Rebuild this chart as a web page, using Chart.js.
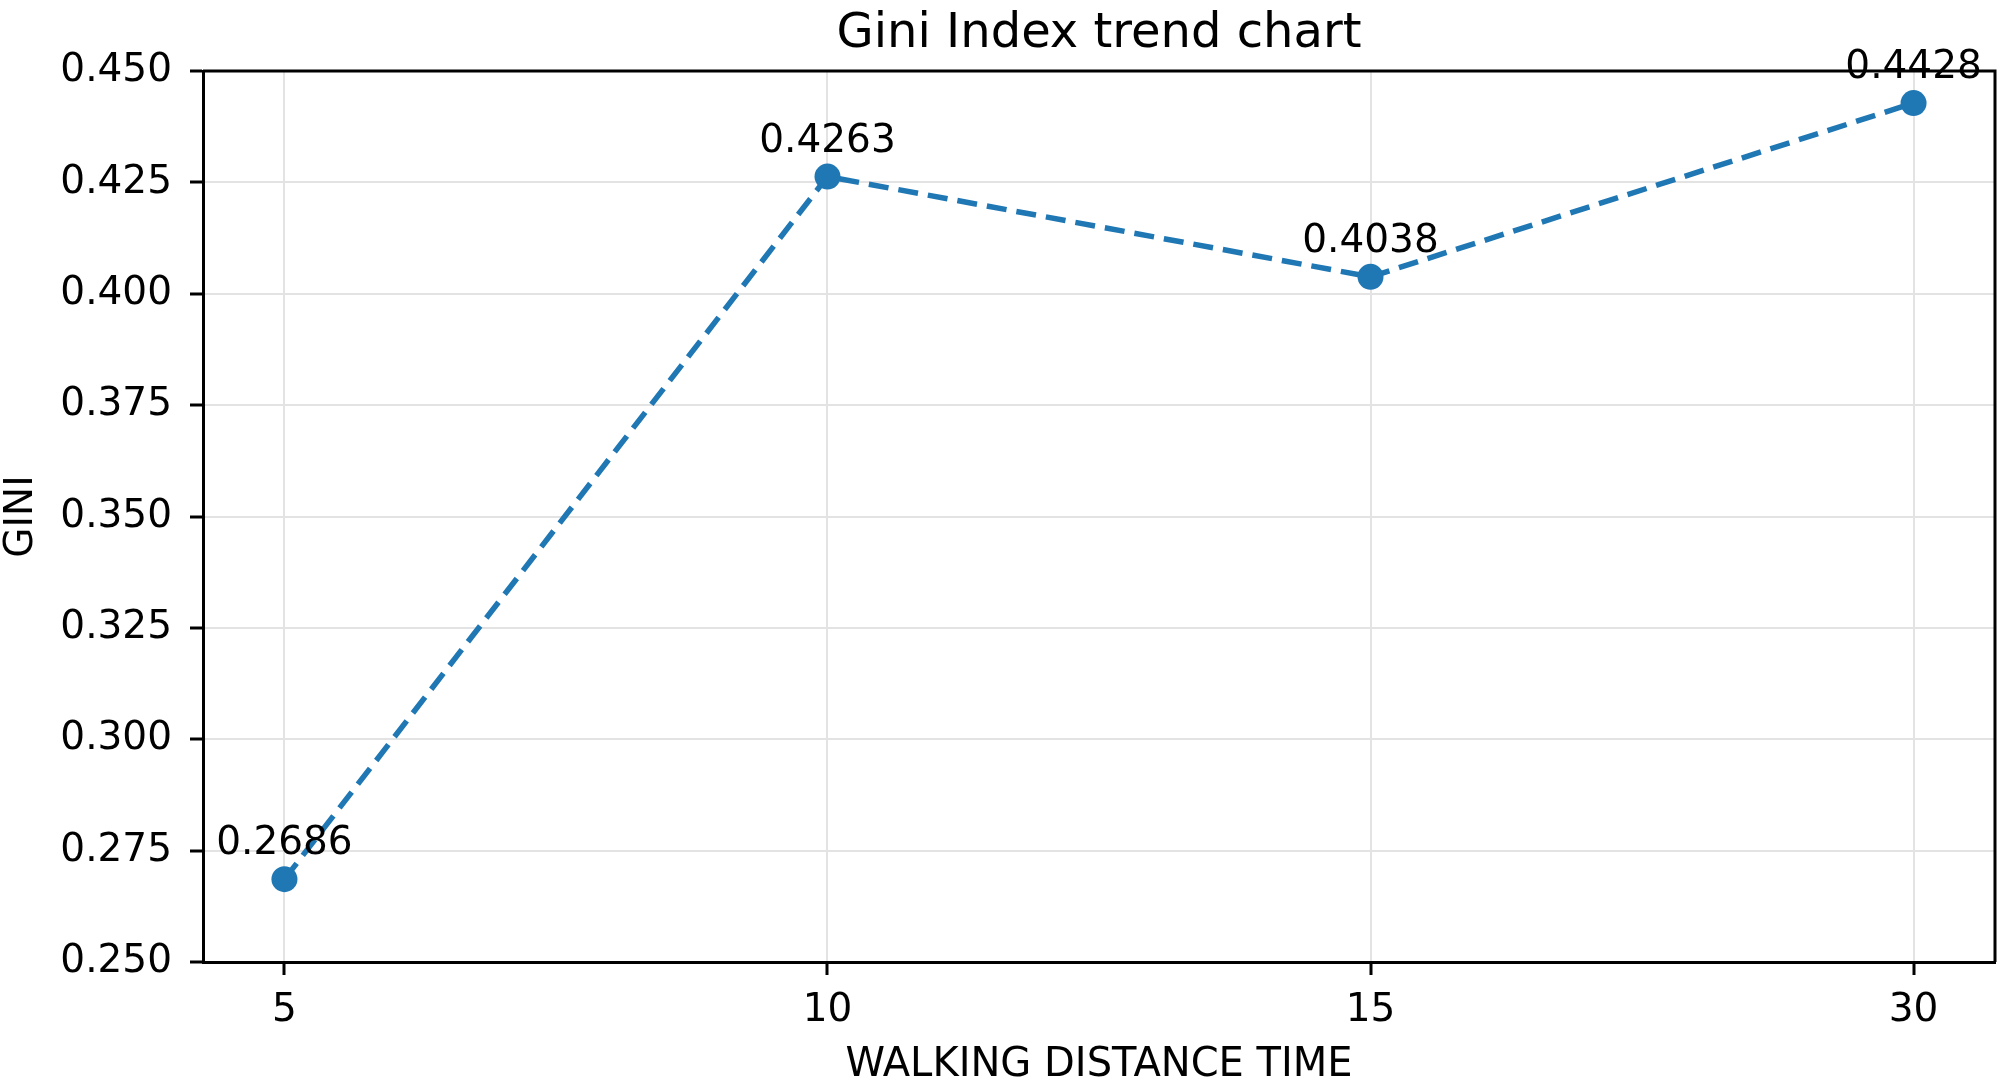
<!DOCTYPE html>
<html>
<head>
<meta charset="utf-8">
<script src="https://cdn.jsdelivr.net/npm/chart.js@4"></script>
<style>
  html, body { margin: 0; padding: 0; background: #fff; }
  #wrap { width: 2008px; height: 1085px; }
</style>
</head>
<body>
<div id="wrap"><canvas id="c" width="2008" height="1085"></canvas></div>
<script>
// ---- data ----
const categories = ['5', '10', '15', '30'];
const giniValues = [0.2686, 0.4263, 0.4038, 0.4428];
const yTickValues = [0.250, 0.275, 0.300, 0.325, 0.350, 0.375, 0.400, 0.425, 0.450];
const chartTitle = 'Gini Index trend chart';
const xAxisTitle = 'WALKING DISTANCE TIME';
const yAxisTitle = 'GINI';

const FONT = "'DejaVu Sans', sans-serif";
const BLUE = '#1f77b4';

const framePlugin = {
  id: 'frame',
  afterDraw(chart) {
    const {ctx, chartArea: a} = chart;
    ctx.save();
    ctx.strokeStyle = '#000';
    ctx.lineWidth = 3;
    ctx.beginPath();
    ctx.moveTo(a.left, a.top);
    ctx.lineTo(a.right, a.top);
    ctx.lineTo(a.right, a.bottom);
    ctx.stroke();
    ctx.restore();
  }
};

// Title centred over the plot area (as in the reference)
const plotTitle = {
  id: 'plotTitle',
  afterDraw(chart) {
    const {ctx, chartArea: a} = chart;
    ctx.save();
    ctx.font = '48px ' + FONT;
    ctx.fillStyle = '#000';
    ctx.textAlign = 'center';
    ctx.textBaseline = 'alphabetic';
    ctx.fillText(chartTitle, (a.left + a.right) / 2, a.top - 24);
    ctx.restore();
  }
};

const valueLabels = {
  id: 'valueLabels',
  afterDraw(chart) {
    const {ctx} = chart;
    const meta = chart.getDatasetMeta(0);
    ctx.save();
    ctx.font = '39px ' + FONT;
    ctx.fillStyle = '#000';
    ctx.textAlign = 'center';
    ctx.textBaseline = 'alphabetic';
    meta.data.forEach((pt, i) => {
      ctx.fillText(giniValues[i].toFixed(4), pt.x, pt.y - 25);
    });
    ctx.restore();
  }
};

new Chart(document.getElementById('c'), {
  type: 'line',
  data: {
    datasets: [{
      data: giniValues.map((v, i) => ({x: i, y: v})),
      borderColor: BLUE,
      backgroundColor: BLUE,
      borderWidth: 5.5,
      borderDash: [20, 10],
      pointRadius: 13,
      pointHoverRadius: 13,
      pointBackgroundColor: BLUE,
      pointBorderWidth: 0,
      tension: 0,
      fill: false,
      clip: false
    }]
  },
  options: {
    responsive: false,
    devicePixelRatio: 1,
    animation: false,
    layout: { padding: { top: 71, right: 10, bottom: 0, left: 0 } },
    plugins: {
      legend: { display: false },
      tooltip: { enabled: false },
      title: { display: false }
    },
    scales: {
      x: {
        type: 'linear',
        min: -0.15,
        max: categories.length - 1 + 0.15,
        afterBuildTicks(scale) { scale.ticks = categories.map((c, i) => ({value: i})); },
        afterFit(scale) { scale.height = 123; },
        ticks: {
          color: '#000',
          font: { family: FONT, size: 39 },
          padding: 12,
          maxRotation: 0,
          autoSkip: false,
          callback: (v) => categories[v]
        },
        grid: {
          color: '#e3e3e3',
          lineWidth: 2,
          drawTicks: true,
          tickLength: 13,
          tickColor: '#000',
          tickWidth: 3
        },
        border: { color: '#000', width: 3 },
        title: {
          display: true,
          text: xAxisTitle,
          color: '#000',
          font: { family: FONT, size: 40, lineHeight: 0.95 },
          padding: { top: 0, bottom: 0 }
        }
      },
      y: {
        type: 'linear',
        min: yTickValues[0],
        max: yTickValues[yTickValues.length - 1],
        afterBuildTicks(scale) { scale.ticks = yTickValues.map(v => ({value: v})); },
        afterFit(scale) { scale.width = 203; },
        ticks: {
          color: '#000',
          font: { family: FONT, size: 39 },
          padding: 18,
          autoSkip: false,
          callback: (v) => Number(v).toFixed(3)
        },
        grid: {
          color: '#e3e3e3',
          lineWidth: 2,
          drawTicks: true,
          tickLength: 13,
          tickColor: '#000',
          tickWidth: 3
        },
        border: { color: '#000', width: 3 },
        title: {
          display: true,
          text: yAxisTitle,
          color: '#000',
          font: { family: FONT, size: 39, lineHeight: 1.1 },
          padding: { top: 0, bottom: 0 }
        }
      }
    }
  },
  plugins: [framePlugin, plotTitle, valueLabels]
});
</script>
</body>
</html>
